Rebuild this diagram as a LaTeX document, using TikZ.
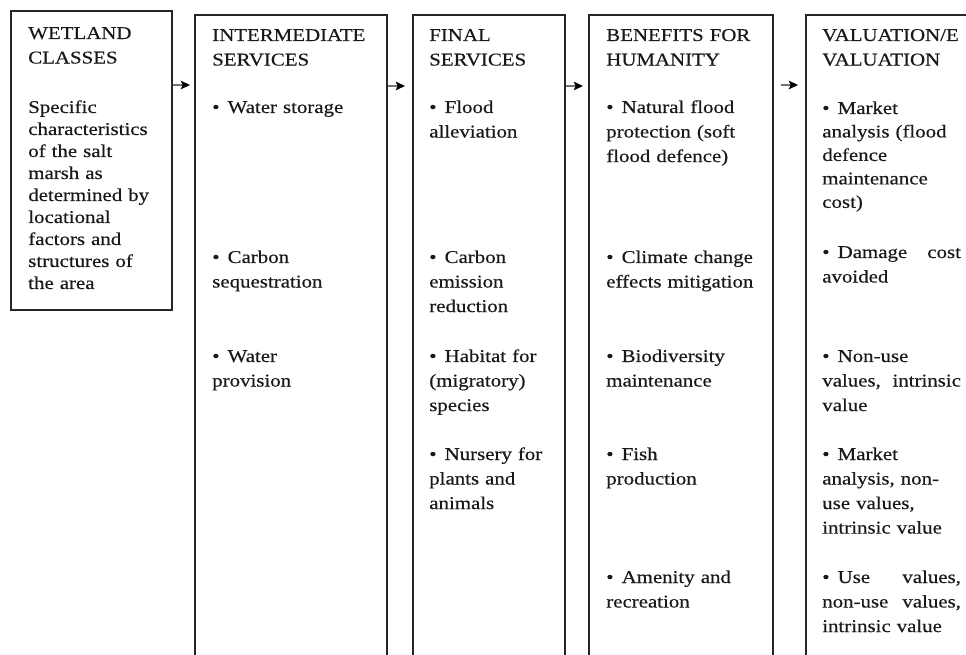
\documentclass[tikz,border=0pt]{standalone}
\usepackage{fontspec}
\setmainfont{Liberation Serif}[FakeStretch=1.16,FakeBold=0.4]
\usetikzlibrary{arrows.meta,fit}
\newcommand\itembul{\textbullet\hspace{0.45em}}
\newcommand\justline[1]{\leavevmode\hbox to 104pt{#1}}
\begin{document}
\begin{tikzpicture}[x=0.75pt,y=-0.75pt,
  box/.style={draw=black!85,line width=1pt,inner sep=0pt},
  txt/.style={anchor=base west,text width=200pt,align=left,inner sep=0pt,
    text=black!90,font=\fontsize{13.5pt}{18.4pt}\selectfont},
  tight/.style={font=\fontsize{13.5pt}{16.5pt}\selectfont},
  mid/.style={font=\fontsize{13.5pt}{17.6pt}\selectfont},
  flow/.style={draw=black!55,line width=0.8pt,
    -{Stealth[length=7pt,width=6.5pt,inset=1.5pt,color=black]}}]
\useasboundingbox (0,0) rectangle (966,655);
\clip (0,0) rectangle (966,655);
\fill[white] (0,0) rectangle (966,655);

% column frames
\node[box,fit={(11,11) (172,310)}] (b1) {};
\node[box,fit={(195,15) (387,700)}] (b2) {};
\node[box,fit={(413,15) (565,700)}] (b3) {};
\node[box,fit={(589,15) (773,700)}] (b4) {};
\node[box,fit={(806,15) (1000,700)}] (b5) {};

% arrows between columns
\coordinate (t1) at (190,85);
\coordinate (t2) at (405,86);
\coordinate (t3) at (583,86);
\coordinate (t4) at (798,85);
\draw[flow] (b1.east |- t1) -- (t1);
\draw[flow] (b2.east |- t2) -- (t2);
\draw[flow] (b3.east |- t3) -- (t3);
\draw[flow,shorten <=5.25pt] (b4.east |- t4) -- (t4);

% column 1
\node[txt] (h1) at (28,39) {WETLAND\\CLASSES};
\node[txt,tight] (d1) at (28,113) {Specific\\characteristics\\of the salt\\marsh as\\determined by\\locational\\factors and\\structures of\\the area};

% column 2
\node[txt] (h2) at (212,41) {INTERMEDIATE\\SERVICES};
\node[txt] (i21) at (212,113) {\itembul Water storage};
\node[txt] (i22) at (212,263) {\itembul Carbon\\sequestration};
\node[txt] (i23) at (212,362) {\itembul Water\\provision};

% column 3
\node[txt] (h3) at (429,41) {FINAL\\SERVICES};
\node[txt] (i31) at (429,113) {\itembul Flood\\alleviation};
\node[txt] (i32) at (429,263) {\itembul Carbon\\emission\\reduction};
\node[txt] (i33) at (429,362) {\itembul Habitat for\\(migratory)\\species};
\node[txt] (i34) at (429,460) {\itembul Nursery for\\plants and\\animals};

% column 4
\node[txt] (h4) at (606,41) {BENEFITS FOR\\HUMANITY};
\node[txt] (i41) at (606,113) {\itembul Natural flood\\protection (soft\\flood defence)};
\node[txt] (i42) at (606,263) {\itembul Climate change\\effects mitigation};
\node[txt] (i43) at (606,362) {\itembul Biodiversity\\maintenance};
\node[txt] (i44) at (606,460) {\itembul Fish\\production};
\node[txt] (i45) at (606,583) {\itembul Amenity and\\recreation};

% column 5
\node[txt] (h5) at (822,41) {VALUATION/E\\VALUATION};
\node[txt,mid] (i51) at (822,114) {\itembul Market\\analysis (flood\\defence\\maintenance\\cost)};
\node[txt] (i52) at (822,258) {\justline{\itembul Damage\hfill cost}\\avoided};
\node[txt] (i53) at (822,362) {\itembul Non-use\\\justline{values,\hfill intrinsic}\\value};
\node[txt] (i54) at (822,460) {\itembul Market\\analysis, non-\\use values,\\intrinsic value};
\node[txt] (i55) at (822,583) {\justline{\itembul Use\hfill values,}\\\justline{non-use\hfill values,}\\intrinsic value};
\end{tikzpicture}
\end{document}
